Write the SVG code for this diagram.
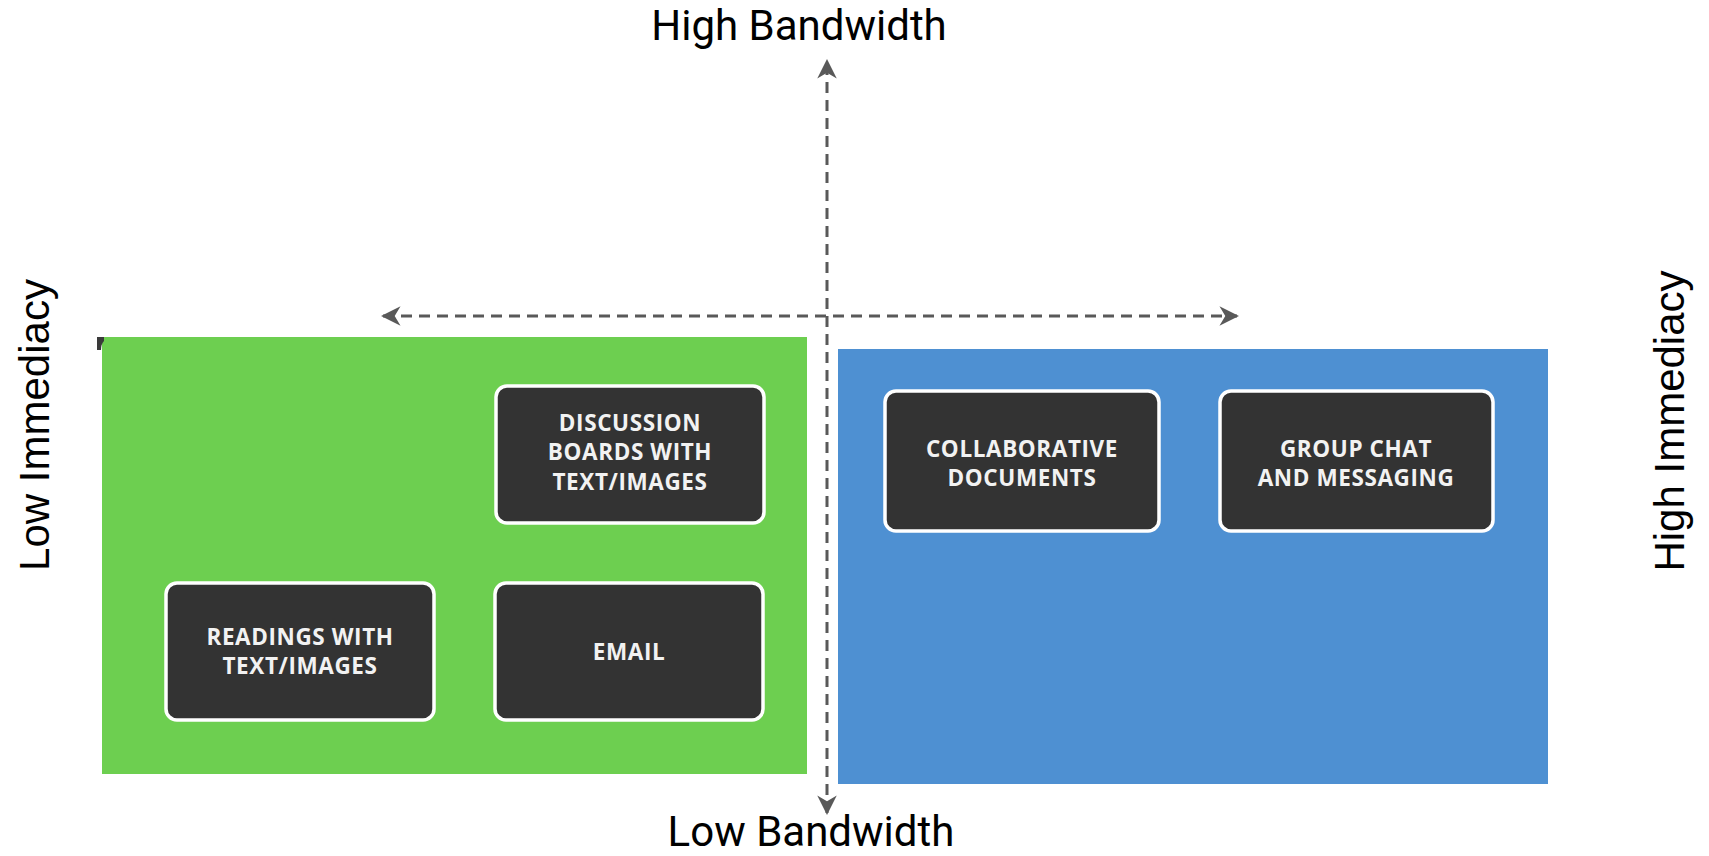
<svg xmlns="http://www.w3.org/2000/svg" width="1709" height="856" viewBox="0 0 1709 856">
  <style>
    .axis { font-family: Roboto, "Liberation Sans", sans-serif; font-size: 42px; fill: #000; }
    .imm { font-family: "Liberation Sans", Arial, sans-serif; font-size: 42px; fill: #000; }
    .box { fill: #333333; stroke: #ffffff; stroke-width: 3.5; }
    .lbl { font-family: "Open Sans", "Liberation Sans", sans-serif; font-weight: 700; font-size: 22.5px; letter-spacing: 0.6px; fill: #f2f2f2; text-anchor: middle; }
    .conn { stroke: #595959; stroke-width: 3; stroke-dasharray: 11 7; fill: none; }
  </style>
  <defs>
    <marker id="arr" viewBox="0 0 10 10" refX="9" refY="5" markerWidth="6.5" markerHeight="6.5" orient="auto-start-reverse" markerUnits="strokeWidth">
      <path d="M0,0 L10,5 L0,10 L3,5 z" fill="#595959"/>
    </marker>
  </defs>
  <rect width="1709" height="856" fill="#ffffff"/>

  <g id="quadrant-low">
    <rect x="102" y="337" width="705" height="437" fill="#6dcf50"/>
    <path d="M97,337 L104,337 L104,341 Q101,344 101,350 L97,350 Z" fill="#3a3a3a"/>
  </g>
  <g id="quadrant-high">
    <rect x="838" y="349" width="710" height="435" fill="#4e90d2"/>
  </g>

  <g id="connectors">
    <line class="conn" x1="827" y1="813" x2="827" y2="61" marker-start="url(#arr)" marker-end="url(#arr)"/>
    <line class="conn" x1="383" y1="316" x2="1237" y2="316" marker-start="url(#arr)" marker-end="url(#arr)"/>
  </g>

  <g id="node-discussion">
    <rect class="box" x="496" y="386" width="268" height="137" rx="11"/>
    <text class="lbl" x="630" y="431">DISCUSSION</text>
    <text class="lbl" x="630" y="460">BOARDS WITH</text>
    <text class="lbl" x="630" y="490">TEXT/IMAGES</text>
  </g>
  <g id="node-readings">
    <rect class="box" x="166" y="583" width="268" height="137" rx="11"/>
    <text class="lbl" x="300" y="645">READINGS WITH</text>
    <text class="lbl" x="300" y="674">TEXT/IMAGES</text>
  </g>
  <g id="node-email">
    <rect class="box" x="495" y="583" width="268" height="137" rx="11"/>
    <text class="lbl" x="629" y="660">EMAIL</text>
  </g>
  <g id="node-collaborative">
    <rect class="box" x="885" y="391" width="274" height="140" rx="11"/>
    <text class="lbl" x="1022" y="457">COLLABORATIVE</text>
    <text class="lbl" x="1022" y="486">DOCUMENTS</text>
  </g>
  <g id="node-groupchat">
    <rect class="box" x="1220" y="391" width="273" height="140" rx="11"/>
    <text class="lbl" x="1356" y="457">GROUP CHAT</text>
    <text class="lbl" x="1356" y="486">AND MESSAGING</text>
  </g>

  <g id="labels">
    <text class="axis" x="799" y="40" text-anchor="middle">High Bandwidth</text>
    <text class="axis" x="811" y="846" text-anchor="middle">Low Bandwidth</text>
    <text class="imm" transform="translate(49,425) rotate(-90)" text-anchor="middle">Low Immediacy</text>
    <text class="imm" transform="translate(1684,421) rotate(-90)" text-anchor="middle">High Immediacy</text>
  </g>
</svg>
